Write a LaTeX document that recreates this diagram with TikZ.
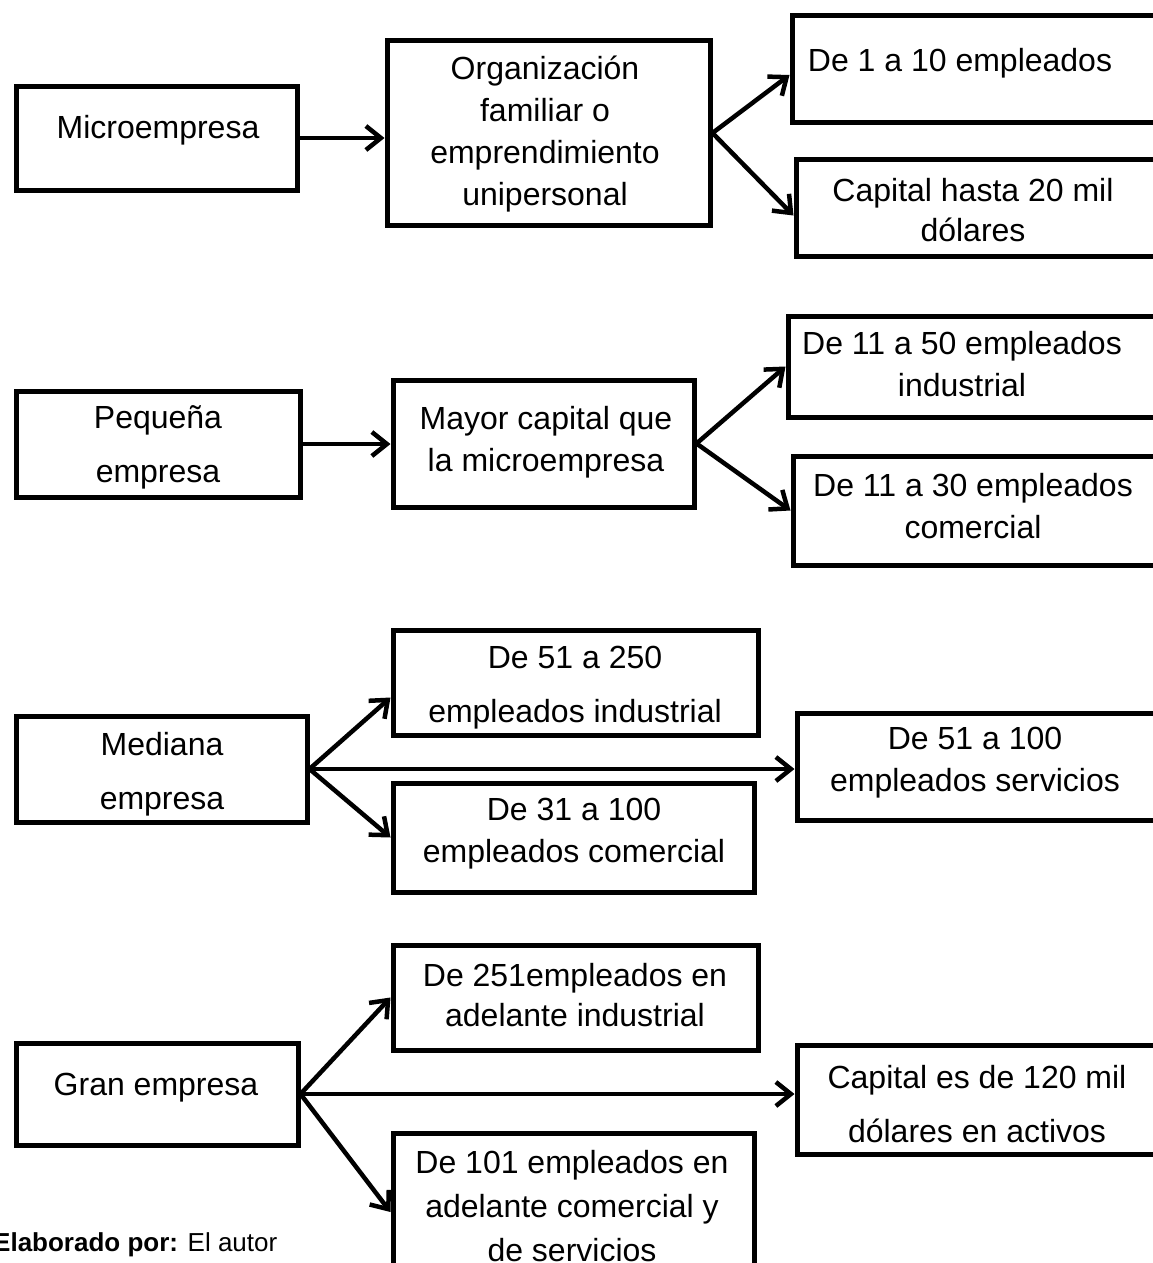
\documentclass[tikz,border=0pt]{standalone}
\usepackage{fontspec}
\setmainfont{Liberation Sans}
\usetikzlibrary{arrows.meta}

\begin{document}
\begin{tikzpicture}[x=1pt, y=-1pt,
    box/.style={draw, line width=5pt, inner sep=0pt},
    txt/.style={align=center, inner sep=0pt, font=\fontsize{32}{42}\selectfont},
    wide/.style={align=center, inner sep=0pt, font=\fontsize{32}{54}\selectfont},
    arr/.style={line width=4.5pt, -{Straight Barb[length=15pt, width=24pt]}}]

    \useasboundingbox (0,0) rectangle (1153,1263);

    % Microempresa
    \node[box, minimum width=281pt, minimum height=104pt] (micro) at (156.5,138) {};
    \node[box, minimum width=323pt, minimum height=184pt] (org) at (548.5,133) {};
    \node[box, minimum width=400pt, minimum height=106pt] (micro1) at (992,69) {};
    \node[box, minimum width=400pt, minimum height=97pt] (micro2) at (996,207.5) {};
    \node[txt] (micro-t) at (158,130) {Microempresa};
    \node[txt] (org-t) at (545,134) {Organización\\familiar o\\emprendimiento\\unipersonal};
    \node[txt] (micro1-t) at (960,63) {De 1 a 10 empleados};
    \node[txt, font=\fontsize{32}{40}\selectfont] (micro2-t) at (973,210) {Capital hasta 20 mil\\dólares};

    \draw[arr] (micro.east) -- (micro.east -| org.west);
    \draw[arr] (org.east) -- ([yshift=-6pt]micro1.west);
    \draw[arr] (org.east) -- ([yshift=-8pt]micro2.west);

    % Pequena empresa
    \node[box, minimum width=284pt, minimum height=106pt] (peq) at (158,444) {};
    \node[box, minimum width=301pt, minimum height=127pt] (mayor) at (543.5,443.5) {};
    \node[box, minimum width=400pt, minimum height=101pt] (peq1) at (988,366.5) {};
    \node[box, minimum width=400pt, minimum height=109pt] (peq2) at (993,510.5) {};
    \node[wide] (peq-t) at (158,447) {Pequeña\\empresa};
    \node[txt] (mayor-t) at (546,442) {Mayor capital que\\la microempresa};
    \node[txt] (peq1-t) at (962,364) {De 11 a 50 empleados\\industrial};
    \node[txt] (peq2-t) at (973,506) {De 11 a 30 empleados\\comercial};

    \draw[arr] (peq.east) -- (peq.east -| mayor.west);
    \draw[arr] (mayor.east) -- (peq1.west);
    \draw[arr] (mayor.east) -- (peq2.west);

    % Mediana empresa
    \node[box, minimum width=291pt, minimum height=106pt] (med) at (161.5,769) {};
    \node[box, minimum width=365pt, minimum height=105pt] (med1) at (575.5,682.5) {};
    \node[box, minimum width=361pt, minimum height=109pt] (med2) at (573.5,837.5) {};
    \node[box, minimum width=400pt, minimum height=107pt] (med3) at (997,766.5) {};
    \node[wide] (med-t) at (162,774) {Mediana\\empresa};
    \node[wide] (med1-t) at (575,688) {De 51 a 250\\empleados industrial};
    \node[txt] (med2-t) at (574,834) {De 31 a 100\\empleados comercial};
    \node[txt] (med3-t) at (975,763) {De 51 a 100\\empleados servicios};

    \draw[arr] (med.east) -- ([yshift=-15pt]med1.west);
    \draw[arr] (med.east) -- (med2.west);
    \draw[arr] (med.east) -- (med.east -| med3.west);

    % Gran empresa
    \node[box, minimum width=282pt, minimum height=102pt] (gran) at (157,1094) {};
    \node[box, minimum width=365pt, minimum height=105pt] (gran1) at (575.5,997.5) {};
    \node[box, minimum width=400pt, minimum height=109pt] (gran2) at (997,1099.5) {};
    \node[box, minimum width=361pt, minimum height=158pt] (gran3) at (573.5,1212) {};
    \node[txt] (gran-t) at (156,1088) {Gran empresa};
    \node[txt, font=\fontsize{32}{40}\selectfont] (gran1-t) at (575,995) {De 251empleados en\\adelante industrial};
    \node[wide] (gran2-t) at (977,1104) {Capital es de 120 mil\\dólares en activos};
    \node[txt, font=\fontsize{32}{44}\selectfont] (gran3-t) at (572,1206) {De 101 empleados en\\adelante comercial y\\de servicios};

    \draw[arr] (gran.east) -- (gran1.west);
    \draw[arr] (gran.east) -- (gran.east -| gran2.west);
    \draw[arr] (gran.east) -- (gran3.west);

    \node[anchor=base west, inner sep=0pt, font=\fontsize{26}{30}\selectfont] (fuente) at (-7,1251) {\textbf{Elaborado por:} El autor};

\end{tikzpicture}
\end{document}
